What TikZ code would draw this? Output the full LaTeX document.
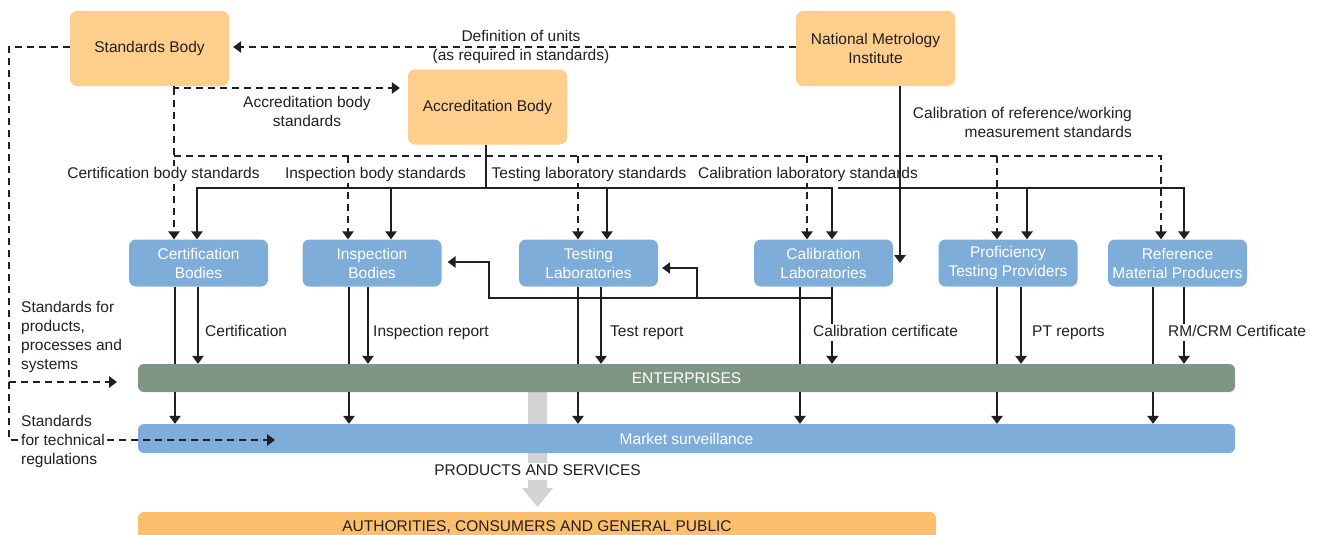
\documentclass[tikz,border=0pt]{standalone}
\usepackage{fontspec}
\setmainfont{Liberation Sans}
\usetikzlibrary{arrows.meta}
\pgfdeclarelayer{bg}
\pgfsetlayers{bg,main}
\definecolor{ink}{HTML}{231F20}
\definecolor{orlt}{HTML}{FDCE8C}
\definecolor{bluebox}{HTML}{7FADDA}
\definecolor{entgreen}{HTML}{7F9685}
\definecolor{orbar}{HTML}{FCBF6D}
\definecolor{greyarr}{HTML}{D3D3D3}
\begin{document}
\begin{tikzpicture}[x=1pt,y=-1pt,
  font=\fontsize{15.5}{19}\selectfont,
  >={Triangle[width=11.5pt,length=8pt]},
  ln/.style={draw=ink, line width=1.5pt},
  dsh/.style={ln, dash pattern=on 7pt off 5pt},
  topbox/.style={fill=orlt, rounded corners=7pt, align=center, text=ink, inner sep=0pt, minimum width=159pt, minimum height=75pt},
  bbox/.style={fill=bluebox, rounded corners=7pt, align=center, text=white, inner sep=0pt, minimum width=139pt, minimum height=47pt},
  bar/.style={rounded corners=6pt, inner sep=0pt, minimum width=1097pt, text=white, text height=11pt, text depth=0pt},
  lab/.style={text=ink, inner sep=1pt, align=left},
  wlab/.style={lab, fill=white},
  sl/.style={text height=11.5pt, text depth=3.5pt},
]
\useasboundingbox (0,0) rectangle (1319,535);

% grey flow arrow (background)
\begin{pgfonlayer}{bg}
\fill[greyarr] (528,392) -- (547,392) -- (547,488) -- (553,488) -- (537.5,507) -- (522,488) -- (528,488) -- cycle;
\end{pgfonlayer}

% top boxes
\node[topbox] (SB) at (149.5,48.5) {Standards Body};
\node[topbox] (AB) at (487.5,107) {Accreditation Body};
\node[topbox] (NMI) at (875.5,48.5) {National Metrology\\Institute};

% blue boxes
\node[bbox] (CB) at (198.5,263) {Certification\\Bodies};
\node[bbox] (IB) at (372,263) {Inspection\\Bodies};
\node[bbox] (TL) at (588.5,263) {Testing\\Laboratories};
\node[bbox] (CL) at (823.5,263) {Calibration\\Laboratories};
\node[bbox] (PT) at (1008,263) {Proficiency\\Testing Providers};
\node[bbox] (RM) at (1177.5,263) {Reference\\Material Producers};

% bars
\node[bar, fill=entgreen, minimum height=28pt] (ENT) at (686.5,378) {ENTERPRISES};
\node[bar, fill=bluebox, minimum height=29pt] (MS) at (686.5,438.5) {Market surveillance};
\node[bar, fill=orbar, minimum width=798pt, minimum height=36pt] (AU) at (537,530) {};
\node[text=ink, inner sep=0pt, text height=11pt, text depth=0pt] (AUt) at (537,526) {AUTHORITIES, CONSUMERS AND GENERAL PUBLIC};

% definition of units
\draw[dsh,->,shorten >=4pt] (NMI.west |- 0,47) -- (SB.east |- 0,47);
\node[lab, align=center] (defu) at (521,47) {Definition of units\\(as required in standards)};

% standards to enterprises / market surveillance
\coordinate (stdT) at (275,440);
\coordinate (stdP) at (117,382);
\draw[dsh,->] (SB.west |- 0,47) -| (9,440) -- (stdT);
\draw[dsh,->] (9,382) -- (stdP);
\node[lab, anchor=west] (tprod) at (20,337) {Standards for\\products,\\processes and\\systems};
\node[wlab, anchor=west] (ttech) at (20,441) {Standards\\for technical\\regulations};

% accreditation body standards (dashed)
\draw[dsh,->,shorten >=8pt] (SB.south -| 174,0) |- (AB.west |- 0,88);
\node[lab, align=center] (tabs) at (307,111) {Accreditation body\\standards};
\draw[dsh,->] (174,88) -- (CB.north -| 174,0);
\draw[dsh,->] (174,156) -| (RM.north -| 1161,0);
\foreach \x/\n in {348/IB,578/TL,807/CL,997/PT}
  \draw[dsh,->] (\x,156) -- (\n.north -| \x,0);

% accreditation solid
\draw[ln] (AB.south -| 486,0) -- (486,188);
\draw[ln,<->] (CB.north -| 197,0) -- (197,188) -| (CL.north -| 832,0);
\draw[ln,->] (838,188) -| (RM.north -| 1184,0);
\foreach \x/\n in {391/IB,607/TL,1027/PT}
  \draw[ln,->] (\x,188) -- (\n.north -| \x,0);

% labels on the standards row
\node[wlab, sl] (lcb) at (163.5,174) {Certification body standards};
\node[wlab, sl] (lib) at (375.5,174) {Inspection body standards};
\node[wlab, sl] (ltl) at (589,174) {Testing laboratory standards};
\node[wlab, sl] (lcl) at (808,174) {Calibration laboratory standards};

% NMI calibration
\draw[ln,->] (NMI.south -| 900,0) -- (CL.east -| 900,0);
\node[lab, align=right, anchor=east] (tcal) at (1133,122.5) {Calibration of reference/working\\measurement standards};

% calibration back to inspection / testing
\draw[ln,->,shorten >=6pt] (832,298) -| (489,262) -- (IB.east |- 0,262);
\draw[ln,->,shorten >=4pt] (697,298) |- (TL.east |- 0,268);

% down lines from bodies
\foreach \xl/\xr/\n in {175/198/CB,349/368/IB,578/601/TL,800/832/CL,997/1021/PT,1153/1184/RM}{
  \draw[ln] (\n.south -| \xl,0) -- (ENT.north -| \xl,0);
  \draw[ln,->] (ENT.south -| \xl,0) -- (MS.north -| \xl,0);
  \draw[ln,->] (\n.south -| \xr,0) -- (ENT.north -| \xr,0);
}
\node[wlab, sl, anchor=west] (rc) at (204,332) {Certification};
\node[wlab, sl, anchor=west] (ri) at (372,332) {Inspection report};
\node[wlab, sl, anchor=west] (rt) at (609,332) {Test report};
\node[wlab, sl, anchor=west] (rl) at (812,332) {Calibration certificate};
\node[wlab, sl, anchor=west] (rp) at (1031,332) {PT reports};
\node[wlab, sl, anchor=west] (rr) at (1167,332) {RM/CRM Certificate};

% products and services
\node[wlab, sl, inner xsep=3pt] (pas) at (537.5,471) {PRODUCTS AND SERVICES};
\end{tikzpicture}
\end{document}
